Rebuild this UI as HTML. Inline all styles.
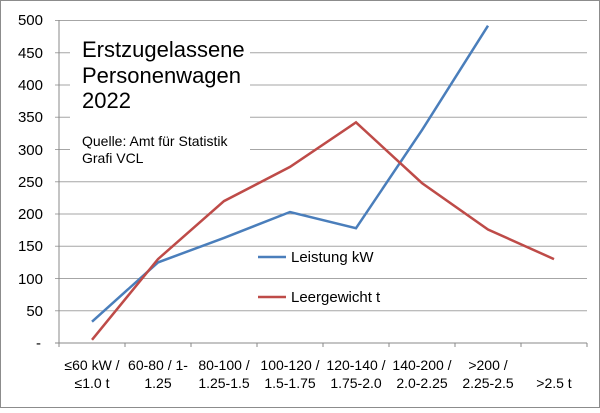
<!DOCTYPE html>
<html><head><style>body{margin:0;background:#fff}</style></head><body>
<svg width="600" height="408" xmlns="http://www.w3.org/2000/svg" font-family="Liberation Sans, Arial, sans-serif">
<rect x="0.5" y="0.5" width="599" height="407" fill="#fff" stroke="#8c8c8c"/>
<g stroke="#a6a6a6" stroke-width="1">
<line x1="55" x2="587" y1="20.5" y2="20.5"/><line x1="55" x2="587" y1="52.8" y2="52.8"/><line x1="55" x2="587" y1="85" y2="85"/><line x1="55" x2="587" y1="117.3" y2="117.3"/><line x1="55" x2="587" y1="149.5" y2="149.5"/><line x1="55" x2="587" y1="181.8" y2="181.8"/><line x1="55" x2="587" y1="214" y2="214"/><line x1="55" x2="587" y1="246.3" y2="246.3"/><line x1="55" x2="587" y1="278.5" y2="278.5"/><line x1="55" x2="587" y1="310.8" y2="310.8"/>
<line x1="55" x2="587" y1="343" y2="343" stroke="#888"/>
<line x1="59" x2="59" y1="20" y2="347" stroke="#888"/>
<g stroke="#888"><line x1="125" x2="125" y1="343" y2="347"/><line x1="191" x2="191" y1="343" y2="347"/><line x1="257" x2="257" y1="343" y2="347"/><line x1="323" x2="323" y1="343" y2="347"/><line x1="389" x2="389" y1="343" y2="347"/><line x1="455" x2="455" y1="343" y2="347"/><line x1="521" x2="521" y1="343" y2="347"/><line x1="587" x2="587" y1="343" y2="347"/></g>
</g>
<rect x="70" y="34" width="180" height="130" fill="#fff"/>
<g font-size="15" fill="#000" text-anchor="end">
<text x="43" y="25">500</text><text x="43" y="58">450</text><text x="43" y="90">400</text><text x="43" y="122">350</text><text x="43" y="155">300</text><text x="43" y="187">250</text><text x="43" y="219">200</text><text x="43" y="251">150</text><text x="43" y="284">100</text><text x="43" y="316">50</text><text x="41" y="348">-</text>
</g>
<text x="82" y="57" font-size="22">Erstzugelassene</text>
<text x="82" y="83" font-size="22">Personenwagen</text>
<text x="82" y="108" font-size="22">2022</text>
<text x="82" y="146" font-size="14">Quelle: Amt für Statistik</text>
<text x="82" y="163" font-size="14">Grafi VCL</text>
<g font-size="14" text-anchor="middle">
<text x="92" y="370">≤60 kW /</text><text x="92" y="388">≤1.0 t</text>
<text x="158" y="370">60-80 / 1-</text><text x="158" y="388">1.25</text>
<text x="224" y="370">80-100 /</text><text x="224" y="388">1.25-1.5</text>
<text x="290" y="370">100-120 /</text><text x="290" y="388">1.5-1.75</text>
<text x="356" y="370">120-140 /</text><text x="356" y="388">1.75-2.0</text>
<text x="422" y="370">140-200 /</text><text x="422" y="388">2.0-2.25</text>
<text x="488" y="370">&gt;200 /</text><text x="488" y="388">2.25-2.5</text>
<text x="554" y="388">&gt;2.5 t</text>
</g>
<polyline fill="none" stroke="#4a7ebb" stroke-width="2.5" points="92,321.7 158,262.4 224,237.9 290,212 356,228.2 422,130.1 488,25.7"/>
<polyline fill="none" stroke="#be4b48" stroke-width="2.5" points="92,339.8 158,259.1 224,201.1 290,166.9 356,122.4 422,183.1 488,229.5 554,259.1"/>
<line x1="258" x2="286" y1="257" y2="257" stroke="#4a7ebb" stroke-width="2.5"/>
<text x="291" y="262" font-size="15">Leistung kW</text>
<line x1="258" x2="286" y1="297" y2="297" stroke="#be4b48" stroke-width="2.5"/>
<text x="291" y="302" font-size="15">Leergewicht t</text>
</svg>
</body></html>
